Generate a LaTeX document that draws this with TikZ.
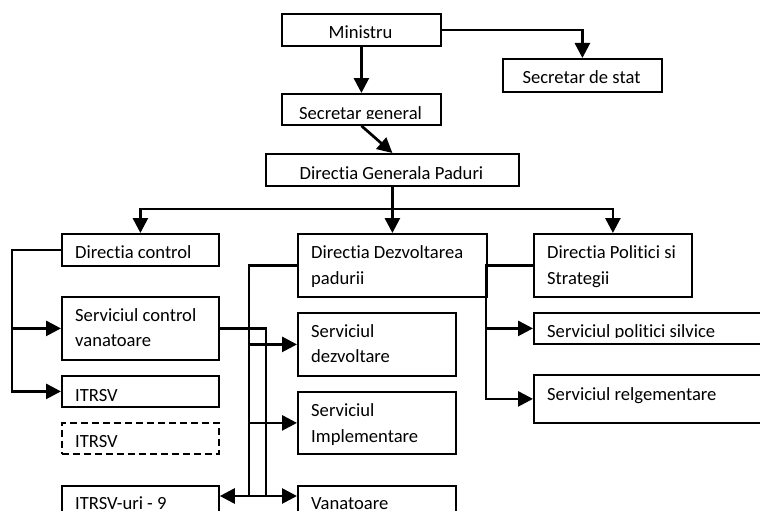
\documentclass[tikz,border=0pt]{standalone}
\usepackage{fontspec}
\setmainfont{Carlito}[Ligatures=NoCommon]
\usetikzlibrary{arrows.meta}

\begin{document}
\begin{tikzpicture}[x=1pt, y=-1pt,
  box/.style={draw, line width=1.8pt, inner sep=0pt, anchor=north west},
  dbox/.style={box, dash pattern=on 7pt off 4pt},
  lbl/.style={inner sep=0pt, font=\fontsize{18.6}{26}\selectfont},
  conn/.style={line width=2.7pt, -{Triangle[width=15pt,length=15pt]}},
  bar/.style={line width=2.7pt}
]
% page frame
\clip (0,0) rectangle (760,511);
\fill[white] (0,0) rectangle (760,511);

% boxes: top part
\node[box, minimum width=159pt, minimum height=32pt] (min)  at (281,13)  {};
\node[box, minimum width=159pt, minimum height=33pt] (ss)   at (502,58)  {};
\node[box, minimum width=159pt, minimum height=31pt] (sg)   at (281,93)  {};
\node[box, minimum width=253pt, minimum height=32pt] (dgp)  at (265,153) {};

% boxes: directions
\node[box, minimum width=157pt, minimum height=32pt] (dc)   at (61,233)  {};
\node[box, minimum width=189pt, minimum height=63pt] (dd)   at (297,233) {};
\node[box, minimum width=158pt, minimum height=63pt] (dp)   at (533,233) {};

% boxes: left column
\node[box,  minimum width=157pt, minimum height=63pt] (scv)  at (61,296)  {};
\node[box,  minimum width=157pt, minimum height=31pt] (itr)  at (61,375)  {};
\node[dbox, minimum width=157pt, minimum height=31pt] (itrd) at (61,422)  {};
\node[box,  minimum width=157pt, minimum height=31pt] (iu)   at (61,485)  {};

% boxes: middle column
\node[box, minimum width=158pt, minimum height=63pt] (sdz)  at (297,312) {};
\node[box, minimum width=158pt, minimum height=62pt] (simp) at (297,391) {};
\node[box, minimum width=158pt, minimum height=31pt] (van)  at (297,485) {};

% boxes: right column
\node[box, minimum width=267pt, minimum height=31pt] (sps)  at (533,312) {};
\node[box, minimum width=267pt, minimum height=48pt] (srg)  at (533,374) {};

% labels
\node[lbl, anchor=base] (t-min) at (360.5,39) {Ministru};
\node[lbl, anchor=base] (t-ss)  at (581.5,83) {Secretar de stat};
\begin{scope}
  \clip (281,93) rectangle (440,118.5);
  \node[lbl, anchor=base] (t-sg) at (360.5,119) {Secretar general};
\end{scope}
\node[lbl, anchor=base] (t-dgp) at (391.5,179) {Directia Generala Paduri};

\begin{scope}
  \clip (61,233) rectangle (218,257);
  \node[lbl, anchor=base west] (t-dc) at (75,258) {Directia control};
\end{scope}
\node[lbl, anchor=base west] (t-dd1) at (311,258) {Directia Dezvoltarea};
\node[lbl, anchor=base west] (t-dd2) at (311,284) {padurii};
\node[lbl, anchor=base west] (t-dp1) at (547,258) {Directia Politici si};
\node[lbl, anchor=base west] (t-dp2) at (547,284) {Strategii};

\node[lbl, anchor=base west] (t-scv1) at (75,321) {Serviciul control};
\node[lbl, anchor=base west] (t-scv2) at (75,346) {vanatoare};
\node[lbl, anchor=base west] (t-itr)  at (75,401) {ITRSV};
\node[lbl, anchor=base west] (t-itrd) at (75,447) {ITRSV};
\node[lbl, anchor=base west] (t-iu)   at (75,509) {ITRSV-uri - 9};

\node[lbl, anchor=base west] (t-sdz1) at (311,337) {Serviciul};
\node[lbl, anchor=base west] (t-sdz2) at (311,362) {dezvoltare};
\node[lbl, anchor=base west] (t-sim1) at (311,416) {Serviciul};
\node[lbl, anchor=base west] (t-sim2) at (311,442) {Implementare};
\node[lbl, anchor=base west] (t-van)  at (311,509) {Vanatoare};

\begin{scope}
  \clip (533,312) rectangle (760,337.5);
  \node[lbl, anchor=base west] (t-sps) at (547,337) {Serviciul politici silvice};
\end{scope}
\node[lbl, anchor=base west] (t-srg) at (547,400) {Serviciul relgementare};

% routing points
\coordinate (bus) at (392,209);
\coordinate (ls)  at (12,0);
\coordinate (s1)  at (249,0);
\coordinate (s2)  at (266,0);
\coordinate (rs)  at (486,0);
\coordinate (bot) at (0,496);

% top connectors
\draw[conn] (min.east) -| (ss.north);
\draw[conn] (min.south) -- (sg.north);
\draw[conn] (sg.south) -- (dgp.north);
\draw[conn] (dgp.south) -- (dd.north);
\draw[conn] (bus -| dd.north) -| (dc.north);
\draw[conn] (bus -| dd.north) -| (dp.north);

% left branch
\draw[conn] (dc.west) -- (dc.west -| ls) |- (scv.west);
\draw[conn] (dc.west) -- (dc.west -| ls) |- (itr.west);

% middle branch
\draw[conn] (dd.west) -- (dd.west -| s1) |- (sdz.west);
\draw[conn] (dd.west) -- (dd.west -| s1) |- (simp.west);
\draw[conn] (dd.west) -- (dd.west -| s1) |- (van.west |- bot);
\draw[conn] (s1 |- bot) -- (iu.east |- bot);
\draw[bar]  (scv.east) -| (s2 |- bot);

% right branch
\draw[conn] (dp.west) -- (dp.west -| rs) |- (sps.west);
\draw[conn] (dp.west) -- (dp.west -| rs) |- (srg.west);
\end{tikzpicture}
\end{document}
